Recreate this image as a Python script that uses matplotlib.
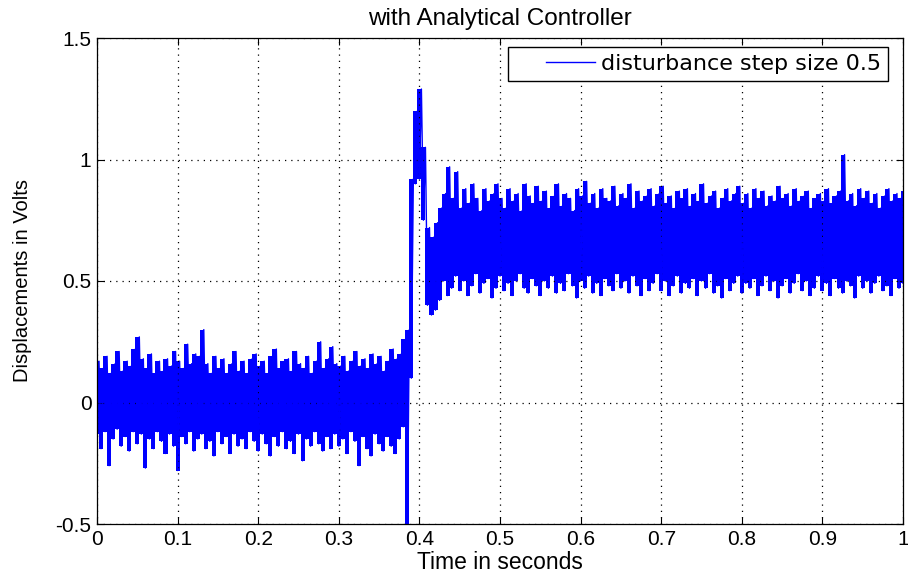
import numpy as np
import matplotlib
matplotlib.use("Agg")
import matplotlib.pyplot as plt
from matplotlib.legend_handler import HandlerLine2D

# Envelope readings of the noisy signal, one pair every 0.005 s (t = 0 ... 1.0)
upper = [
    0.17, 0.14, 0.19, 0.12, 0.16, 0.21, 0.13, 0.17, 0.15, 0.22,
    0.27, 0.18, 0.14, 0.20, 0.12, 0.17, 0.13, 0.18, 0.15, 0.21,
    0.17, 0.14, 0.24, 0.16, 0.20, 0.19, 0.30, 0.16, 0.12, 0.19,
    0.14, 0.18, 0.12, 0.16, 0.21, 0.13, 0.17, 0.12, 0.18, 0.20,
    0.15, 0.17, 0.12, 0.19, 0.22, 0.14, 0.17, 0.18, 0.13, 0.21,
    0.16, 0.14, 0.19, 0.12, 0.17, 0.25, 0.14, 0.18, 0.23, 0.16,
    0.15, 0.19, 0.13, 0.17, 0.21, 0.15, 0.18, 0.14, 0.20, 0.16,
    0.19, 0.13, 0.17, 0.22, 0.18, 0.20, 0.26,
    0.30, 0.92, 1.20, 1.29, 1.05, 0.72, 0.68, 0.74,
    0.80, 0.86, 0.97, 0.84, 0.95,
    0.80, 0.88, 0.82, 0.90, 0.84, 0.79, 0.88, 0.83, 0.86, 0.90,
    0.84, 0.80, 0.88, 0.83, 0.86, 0.79, 0.90, 0.85, 0.82, 0.89,
    0.83, 0.87, 0.80, 0.85, 0.90, 0.81, 0.86, 0.84, 0.79, 0.88,
    0.85, 0.91, 0.82, 0.86, 0.80, 0.88, 0.84, 0.83, 0.89, 0.81,
    0.86, 0.84, 0.90, 0.80, 0.87, 0.83, 0.85, 0.88, 0.81, 0.86,
    0.89, 0.82, 0.85, 0.80, 0.87, 0.84, 0.88, 0.81, 0.86, 0.83,
    0.90, 0.82, 0.85, 0.87, 0.80, 0.84, 0.88, 0.83, 0.86, 0.89,
    0.82, 0.86, 0.80, 0.88, 0.84, 0.87, 0.81, 0.85, 0.83, 0.89,
    0.84, 0.86, 0.81, 0.88, 0.83, 0.85, 0.87, 0.80, 0.84, 0.86,
    0.83, 0.88, 0.82, 0.85, 0.87, 1.02, 0.83, 0.86, 0.81, 0.88,
    0.84, 0.87, 0.82, 0.86, 0.80, 0.85, 0.88, 0.83, 0.86, 0.84, 0.87,
]
lower = [
    -0.13, -0.19, -0.12, -0.26, -0.15, -0.11, -0.18, -0.14, -0.20, -0.12,
    -0.17, -0.13, -0.27, -0.15, -0.19, -0.12, -0.16, -0.21, -0.13, -0.18,
    -0.28, -0.14, -0.17, -0.12, -0.20, -0.15, -0.13, -0.19, -0.16, -0.22,
    -0.12, -0.17, -0.14, -0.21, -0.13, -0.18, -0.15, -0.19, -0.12, -0.16,
    -0.20, -0.13, -0.17, -0.22, -0.14, -0.18, -0.12, -0.19, -0.16, -0.21,
    -0.13, -0.24, -0.15, -0.18, -0.12, -0.17, -0.20, -0.14, -0.19, -0.13,
    -0.18, -0.15, -0.21, -0.12, -0.16, -0.26, -0.14, -0.19, -0.22, -0.13,
    -0.17, -0.20, -0.14, -0.18, -0.21, -0.15, -0.10,
    -0.55, 0.10, 0.90, 0.92, 0.75, 0.40, 0.36, 0.38,
    0.42, 0.50, 0.44, 0.47, 0.52,
    0.46, 0.50, 0.44, 0.48, 0.53, 0.45, 0.49, 0.51, 0.43, 0.47,
    0.52, 0.46, 0.49, 0.44, 0.50, 0.53, 0.47, 0.45, 0.51, 0.48,
    0.44, 0.50, 0.47, 0.52, 0.45, 0.49, 0.46, 0.53, 0.48, 0.43,
    0.50, 0.47, 0.52, 0.45, 0.49, 0.44, 0.51, 0.48, 0.46, 0.53,
    0.47, 0.50, 0.45, 0.52, 0.48, 0.44, 0.51, 0.46, 0.49, 0.53,
    0.46, 0.50, 0.44, 0.48, 0.52, 0.45, 0.49, 0.47, 0.51, 0.44,
    0.50, 0.47, 0.53, 0.45, 0.48, 0.43, 0.51, 0.46, 0.49, 0.52,
    0.45, 0.49, 0.47, 0.51, 0.44, 0.48, 0.52, 0.46, 0.50, 0.43,
    0.48, 0.51, 0.45, 0.49, 0.53, 0.46, 0.50, 0.44, 0.47, 0.52,
    0.46, 0.49, 0.44, 0.51, 0.47, 0.45, 0.50, 0.48, 0.43, 0.52,
    0.47, 0.50, 0.45, 0.49, 0.52, 0.46, 0.48, 0.44, 0.51, 0.47, 0.49,
]
sample_step = 0.005
x_ticks = [0, 0.1, 0.2, 0.3, 0.4, 0.5, 0.6, 0.7, 0.8, 0.9, 1]
x_ticklabels = ["0", "0.1", "0.2", "0.3", "0.4", "0.5", "0.6", "0.7", "0.8", "0.9", "1"]
y_ticks = [-0.5, 0, 0.5, 1, 1.5]
y_ticklabels = ["-0.5", "0", "0.5", "1", "1.5"]

n = len(upper)
t_env = np.arange(n) * sample_step
sig = np.empty(2 * n)
sig[0::2] = lower
sig[1::2] = upper
t = np.arange(2 * n) * (sample_step / 2)


class OffsetLineHandler(HandlerLine2D):
    def get_xdata(self, legend, xdescent, ydescent, width, height, fontsize):
        x0 = -xdescent + 0.38 * width
        xd = np.array([x0, width - xdescent])
        return xd, xd


blue = (0, 0, 1)
plt.rcParams['font.family'] = ['Liberation Sans', 'DejaVu Sans']
fig = plt.figure(figsize=(9.08, 5.74), dpi=100)
ax = fig.add_axes([97 / 908, 1 - 524 / 574, 806 / 908, 486 / 574])
ax.fill_between(t_env, lower, upper, step='mid', color=blue, lw=0)
line, = ax.plot(t, sig, color=blue, lw=1.0, label="disturbance step size 0.5")
ax.set_xlim(0, 1)
ax.set_ylim(-0.5, 1.5)
ax.set_xticks(x_ticks)
ax.set_xticklabels(x_ticklabels)
ax.set_yticks(y_ticks)
ax.set_yticklabels(y_ticklabels)
ax.grid(True, color='black', linestyle=(0, (1, 4)), linewidth=0.9)
ax.tick_params(direction='in', top=True, right=True, length=5, labelsize=15, pad=4)
for s in ax.spines.values():
    s.set_linewidth(0.9)
ax.set_title("with Analytical Controller", fontsize=17.5, pad=9)
ax.set_xlabel("Time in seconds", fontsize=16.5, labelpad=2)
ax.set_ylabel("Displacements in Volts", fontsize=14.5, labelpad=17)
leg = ax.legend(handles=[line], loc='upper right',
                bbox_to_anchor=((888 - 97) / 806, (524 - 47) / 486),
                borderaxespad=0, frameon=True, fancybox=False,
                edgecolor='black', framealpha=1, handlelength=3.6,
                handletextpad=0.25, borderpad=0.32,
                handler_map={line: OffsetLineHandler()},
                prop={'family': 'DejaVu Sans', 'size': 16})
leg.get_frame().set_linewidth(1.0)
fig.savefig("out.png", dpi=100)
